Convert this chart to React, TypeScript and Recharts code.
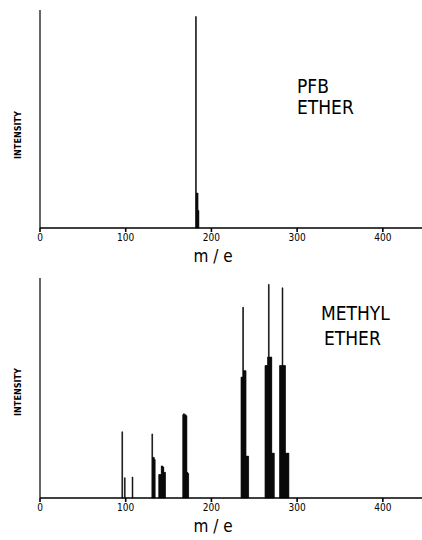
import { BarChart, Bar, XAxis, YAxis } from 'recharts';

// m/e ticks shared by both spectra
const massTicks = [0, 100, 200, 300, 400];

// PFB ether spectrum
const pfbMass = [182, 183, 184, 185];
const pfbIntensity = [97, 16, 16, 8];

// methyl ether spectrum
const methylMass = [
    96, 99, 108,
    131, 132, 133, 134,
    139, 140, 141, 142, 143, 144, 145, 146,
    167, 168, 169, 170, 171, 172, 173,
    235, 236, 237, 238, 239, 240, 241, 242, 243,
    263, 264, 265, 266, 267, 268, 269, 270, 271, 272, 273,
    280, 281, 282, 283, 284, 285, 286, 287, 288, 289, 290,
];
const methylIntensity = [
    31, 9.5, 9.8,
    30, 19, 19, 18,
    11, 11, 11, 15, 15, 14.5, 12, 12,
    39, 39.5, 39, 39, 38.5, 12, 11.5,
    56.6, 56.6, 89.3, 59.6, 59.6, 59.6, 19.6, 19.6, 19.6,
    62, 62, 62, 66, 100, 66, 66, 66, 21, 21, 21,
    62, 62, 62, 98.4, 62, 62, 62, 21, 21, 21, 21,
];

const pfbData = pfbMass.map((m, i) => ({ m, v: pfbIntensity[i] }));
const methylData = methylMass.map((m, i) => ({ m, v: methylIntensity[i] }));

const ink = '#000';
const font = "'DejaVu Sans Condensed', 'Liberation Sans Narrow', 'DejaVu Sans', sans-serif";

function Spectrum({ data, top, yMax }: { data: { m: number; v: number }[]; top: number; yMax: number }) {
    return (
        <BarChart width={422} height={270} data={data} margin={{ top, right: 0, bottom: 0, left: 0 }} barCategoryGap={0}>
            <XAxis
                type="number"
                dataKey="m"
                domain={[0, 445.7]}
                ticks={massTicks}
                allowDataOverflow
                height={42}
                stroke={ink}
                strokeWidth={1.6}
                tickSize={4}
                tick={{ fontSize: 10, fill: ink, fontFamily: font }}
            />
            <YAxis type="number" domain={[0, yMax]} width={40} tick={false} tickLine={false} stroke={ink} strokeWidth={1.2} />
            <Bar dataKey="v" fill={ink} stroke={ink} strokeWidth={0.6} barSize={1.2} isAnimationActive={false} />
        </BarChart>
    );
}

const textBase: React.CSSProperties = { position: 'absolute', fontFamily: font, color: ink, lineHeight: 1, whiteSpace: 'nowrap' };

export default function App() {
    return (
        <div style={{ position: 'absolute', left: 0, top: 0, width: 422, height: 540, background: '#fff' }}>
            <div style={{ position: 'absolute', left: 0, top: 0 }}>
                <Spectrum data={pfbData} top={10} yMax={100} />
            </div>
            <div style={{ position: 'absolute', left: 0, top: 270 }}>
                <Spectrum data={methylData} top={8} yMax={103} />
            </div>

            <div style={{ ...textBase, left: 297, top: 77, fontSize: 19 }}>PFB</div>
            <div style={{ ...textBase, left: 297, top: 98, fontSize: 19 }}>ETHER</div>
            <div style={{ ...textBase, left: 321, top: 304, fontSize: 19 }}>METHYL</div>
            <div style={{ ...textBase, left: 324, top: 329, fontSize: 19 }}>ETHER</div>

            <div style={{ ...textBase, left: 213, top: 248, fontSize: 17, transform: 'translateX(-50%)' }}>m / e</div>
            <div style={{ ...textBase, left: 213, top: 518, fontSize: 17, transform: 'translateX(-50%)' }}>m / e</div>

            <div style={{ ...textBase, left: 18, top: 135, fontSize: 9, fontWeight: 'bold', transform: 'translate(-50%, -50%) rotate(-90deg)' }}>INTENSITY</div>
            <div style={{ ...textBase, left: 18, top: 392, fontSize: 9, fontWeight: 'bold', transform: 'translate(-50%, -50%) rotate(-90deg)' }}>INTENSITY</div>
        </div>
    );
}
